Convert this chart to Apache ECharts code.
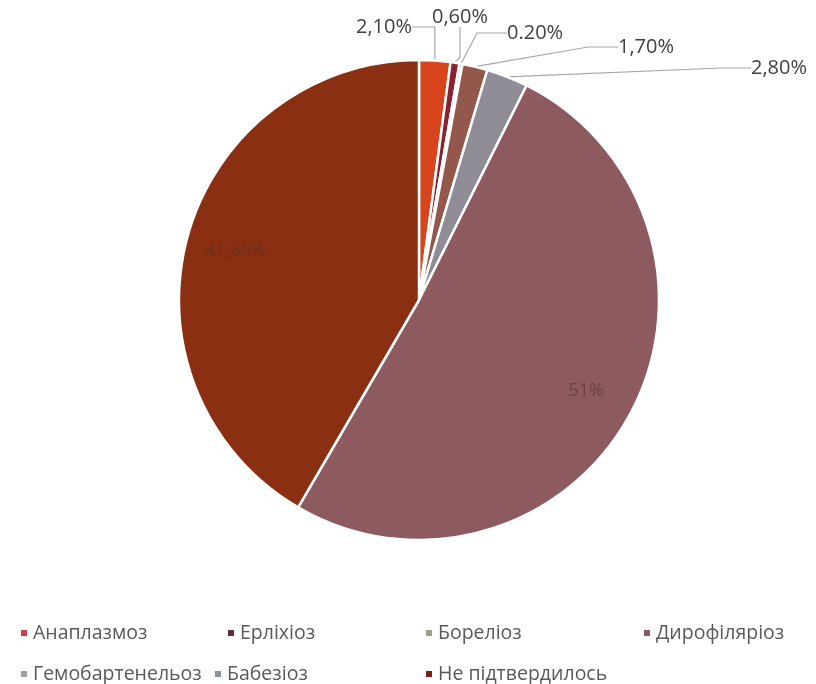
<!DOCTYPE html>
<html><head><meta charset="utf-8">
<script src="https://cdn.jsdelivr.net/npm/echarts@6/dist/echarts.min.js"></script>
<style>html,body{margin:0;padding:0;background:#fff}#c{width:816px;height:684px}</style>
</head><body><div id="c"></div>
<script>
// Data
const names = ['Анаплазмоз','Ерліхіоз','Бореліоз','Гемобартенельоз','Бабезіоз','Дирофіляріоз','Не підтвердилось'];
const values = [2.1, 0.6, 0.2, 1.7, 2.8, 51, 41.6];
const labelTexts = ['2,10%','0,60%','0.20%','1,70%','2,80%','51%','41,60%'];
const legendOrder = ['Анаплазмоз','Ерліхіоз','Бореліоз','Дирофіляріоз','Гемобартенельоз','Бабезіоз','Не підтвердилось'];

// Styles
const sliceColors = ['#d8451c','#8a2232','#a6ab96','#94574c','#8f8c96','#8d5a60','#8b2f12'];
const innerLabelColors = ['#000','#000','#000','#000','#000','#6c3f46','#70301c'];
const legendColors = {'Анаплазмоз':'#d23c50','Ерліхіоз':'#6a2838','Бореліоз':'#9ea08c','Дирофіляріоз':'#8a5868','Гемобартенельоз':'#a0a0a0','Бабезіоз':'#8a909c','Не підтвердилось':'#7a2010'};
const legendPos = {'Анаплазмоз':[14,618],'Ерліхіоз':[221,618],'Бореліоз':[419,618],'Дирофіляріоз':[637,618],'Гемобартенельоз':[14,659],'Бабезіоз':[208,659],'Не підтвердилось':[419,659]};
const outerLabelPos = [[412,27,'right'],[432,17,'left'],[507,33,'left'],[618,47,'left'],[751,68,'left']];

const chart = echarts.init(document.getElementById('c'));
const FONT = 'Open Sans';
const pieData = names.map((n,i)=>({name:n, value:values[i], itemStyle:{color:sliceColors[i]}, labelLine:{show: i < 5}}));

const legends = legendOrder.map(n=>({
  data:[{name:n, itemStyle:{color:legendColors[n]}}],
  left: legendPos[n][0], top: legendPos[n][1],
  icon:'rect', itemWidth:8, itemHeight:8, selectedMode:false,
  textStyle:{fontFamily:FONT, fontSize:19.5, color:'#595959'}
}));

chart.setOption({
  animation:false,
  legend: legends,
  series:[
    {
      type:'pie', center:[419,300], radius:[0,240], startAngle:90, clockwise:true,
      data: pieData,
      itemStyle:{borderColor:'#fff', borderWidth:2.5},
      label:{
        show:true, position:'outside',
        formatter: p => p.dataIndex < 5 ? labelTexts[p.dataIndex] : '',
        fontFamily:FONT, fontSize:20, color:'#404040'
      },
      labelLine:{show:true, lineStyle:{color:'#a6a6a6', width:1.2}},
      labelLayout: function(params){
        const i = params.dataIndex;
        if (i < 5) {
          const p = outerLabelPos[i];
          return {x:p[0], y:p[1], align:p[2], verticalAlign:'middle', hideOverlap:false, moveOverlap:null};
        }
        return {};
      },
      emphasis:{disabled:true}
    },
    {
      type:'pie', center:[419,300], radius:[134,240], startAngle:90, clockwise:true,
      silent:true,
      data: names.map((n,i)=>({name:n, value:values[i], itemStyle:{color:'rgba(0,0,0,0)'}, label:{color:innerLabelColors[i]}})),
      label:{
        show:true, position:'inside',
        formatter: p => p.dataIndex >= 5 ? labelTexts[p.dataIndex] : '',
        fontFamily:FONT, fontSize:18
      },
      labelLine:{show:false},
      emphasis:{disabled:true},
      itemStyle:{borderWidth:0}
    }
  ]
});
</script></body></html>
